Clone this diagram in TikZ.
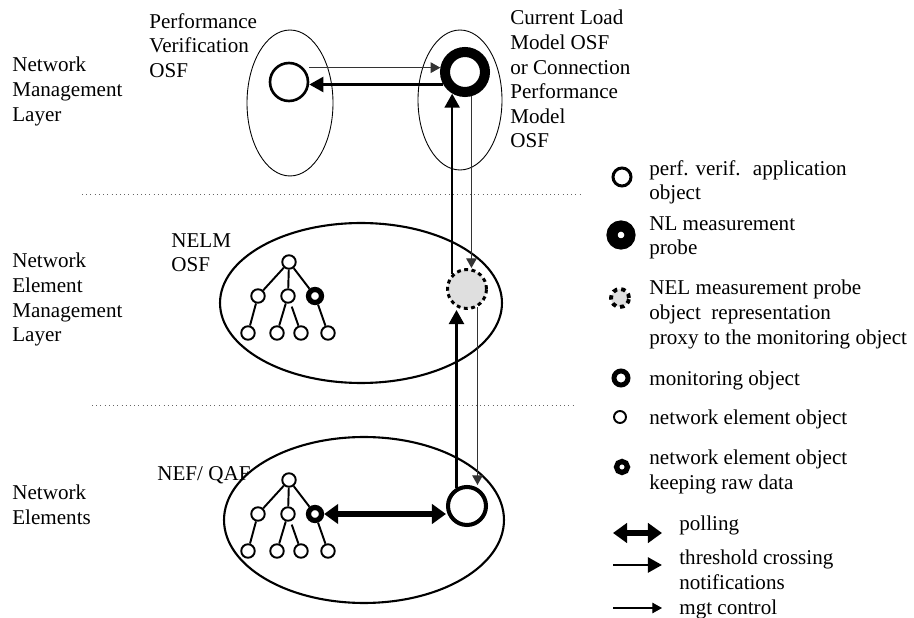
\documentclass[tikz,border=0pt]{standalone}
\usepackage{fontspec}
\setmainfont{Liberation Serif}
\usetikzlibrary{arrows.meta,shapes.geometric}
\begin{document}
\begin{tikzpicture}[x=0.02cm, y=-0.02cm,
    lbl/.style={anchor=north west, inner sep=0pt, align=left, font=\fontsize{12}{14}\selectfont},
    osf/.style={draw, ellipse, inner sep=0pt},
    sep/.style={draw=black!60, line width=0.4pt, dotted},
    neobj/.style={draw, circle, inner sep=0pt, minimum size=0.27cm, line width=1.1pt},
    nekeep/.style={draw, circle, inner sep=0pt, minimum size=0.26cm, line width=3pt},
    pvapp/.style={draw, circle, inner sep=0pt, minimum size=0.76cm, line width=1.5pt},
    nlring/.style={draw, circle, inner sep=0pt, minimum size=0.8cm, line width=5.7pt},
    nelproxy/.style={draw, circle, inner sep=0pt, minimum size=0.78cm, fill=gray!25, line width=1.7pt, dash pattern=on 2.2pt off 2pt},
    monobj/.style={draw, circle, inner sep=0pt, minimum size=0.76cm, line width=2.3pt},
    mgt/.style={draw=black!80, line width=0.6pt, -{Triangle[length=5.5pt, width=6pt]}},
    notif/.style={line width=1.5pt, -{Triangle[length=8pt, width=8.5pt]}},
    poll/.style={line width=3.4pt, {Triangle[length=8pt, width=11pt]}-{Triangle[length=8pt, width=11pt]}}]
    \useasboundingbox (0,0) rectangle (914,618);

    % layer names and separators
    \node[lbl] (nml) at (12,57) {Network\\Management\\Layer};
    \node[lbl] (neml) at (12,253) {Network\\Element\\Management\\Layer};
    \node[lbl] (nel) at (12,485) {Network\\Elements};
    \draw[sep] (82,194) -- (582,194);
    \draw[sep] (92,405) -- (573,405);

    % OSF ellipses
    \node[osf, line width=0.5pt, minimum width=1.72cm, minimum height=2.92cm] (pvosf) at (290,103) {};
    \node[osf, line width=0.5pt, minimum width=1.68cm, minimum height=2.8cm] (clmosf) at (460,100) {};
    \node[osf, line width=1.2pt, minimum width=5.64cm, minimum height=3.2cm] (nelmosf) at (361,303) {};
    \node[osf, line width=1.2pt, minimum width=5.6cm, minimum height=3.32cm] (nefosf) at (364,520) {};
    \node[lbl] (pvtxt) at (149,13) {Performance\\Verification\\OSF};
    \node[lbl] (clmtxt) at (510,10) {Current Load\\Model OSF\\or Connection\\Performance\\Model\\OSF};
    \node[lbl] (nelmtxt) at (171,233) {NELM\\OSF};
    \node[lbl] (neftxt) at (157,466) {NEF/ QAF};

    % object trees
    \foreach \t/\dy in {m/0, e/218} {
        \node[neobj] (\t0) at (289,{262+\dy}) {};
        \node[neobj] (\t1) at (258,{296+\dy}) {};
        \node[neobj] (\t2) at (288,{296+\dy}) {};
        \node[nekeep] (\t3) at (315,{296+\dy}) {};
        \node[neobj] (\t4) at (248,{333+\dy}) {};
        \node[neobj] (\t5) at (277,{333+\dy}) {};
        \node[neobj] (\t6) at (301,{333+\dy}) {};
        \node[neobj] (\t7) at (328,{333+\dy}) {};
        \draw[line width=1.1pt] (\t0) -- (\t1) (\t0) -- (\t2) (\t0) -- (\t3)
            (\t1) -- (\t4) (\t2) -- (\t5) (\t3) -- (\t7);
        \draw[line width=1.1pt, shorten <=2pt] (\t2) -- (\t6);
    }

    % measurement objects
    \node[pvapp] (pvobj) at (289,82) {};
    \node[nlring] (nlprobe) at (465,72) {};
    \node[nelproxy] (proxy) at (467,289) {};
    \node[monobj] (monitor) at (467,506) {};

    % connectors
    \draw[mgt] (pvobj.east |- nlprobe.170) -- (nlprobe.170);
    \draw[notif] (nlprobe.210) -- (nlprobe.210 -| pvobj.east);
    \draw[notif] (proxy.135) -- (proxy.135 |- nlprobe.240);
    \draw[mgt] (nlprobe.285) -- (nlprobe.285 |- proxy.north);
    \draw[notif] (monitor.120) -- (monitor.120 |- proxy.south);
    \draw[mgt] (proxy.300) -- (proxy.300 |- monitor.north);
    \draw[poll] (e3) -- (e3 -| monitor.west);

    % legend
    \node[draw, circle, inner sep=0pt, minimum size=0.36cm, line width=1.7pt] (lgpv) at (622,177) {};
    \node[draw, circle, inner sep=0pt, minimum size=0.36cm, line width=6.3pt] (lgnl) at (621,235) {};
    \node[draw, circle, inner sep=0pt, minimum size=0.36cm, fill=gray!25, line width=2.2pt, dash pattern=on 2.5pt off 2.3pt] (lgnel) at (620,298) {};
    \node[draw, circle, inner sep=0pt, minimum size=0.28cm, line width=2.8pt] (lgmon) at (621,378) {};
    \node[draw, circle, inner sep=0pt, minimum size=0.24cm, line width=1.1pt] (lgne) at (620,417) {};
    \node[draw, circle, inner sep=0pt, minimum size=0.22cm, line width=3pt] (lgkeep) at (622,467) {};
    \coordinate (pla) at (613,533);
    \coordinate (plb) at (662,533);
    \coordinate (tha) at (613,565);
    \coordinate (thb) at (662,565);
    \coordinate (mga) at (613,608);
    \coordinate (mgb) at (662,608);
    \draw[poll] (pla) -- (plb);
    \draw[notif] (tha) -- (thb);
    \draw[mgt, draw=black] (mga) -- (mgb);
    \node[lbl] (lgpvtxt) at (649,160) {perf. verif.~ application\\object};
    \node[lbl] (lgnltxt) at (649,216) {NL measurement\\probe};
    \node[lbl] (lgneltxt) at (649,280) {NEL measurement probe\\object~ representation\\proxy to the monitoring object};
    \node[lbl] (lgmontxt) at (649,371) {monitoring object};
    \node[lbl] (lgnetxt) at (649,410) {network element object};
    \node[lbl] (lgkeeptxt) at (649,450) {network element object\\keeping raw data};
    \node[lbl] (lgpltxt) at (679,516) {polling};
    \node[lbl] (lgthtxt) at (679,550) {threshold crossing\\notifications};
    \node[lbl] (lgmgtxt) at (679,600) {mgt control};
\end{tikzpicture}
\end{document}
